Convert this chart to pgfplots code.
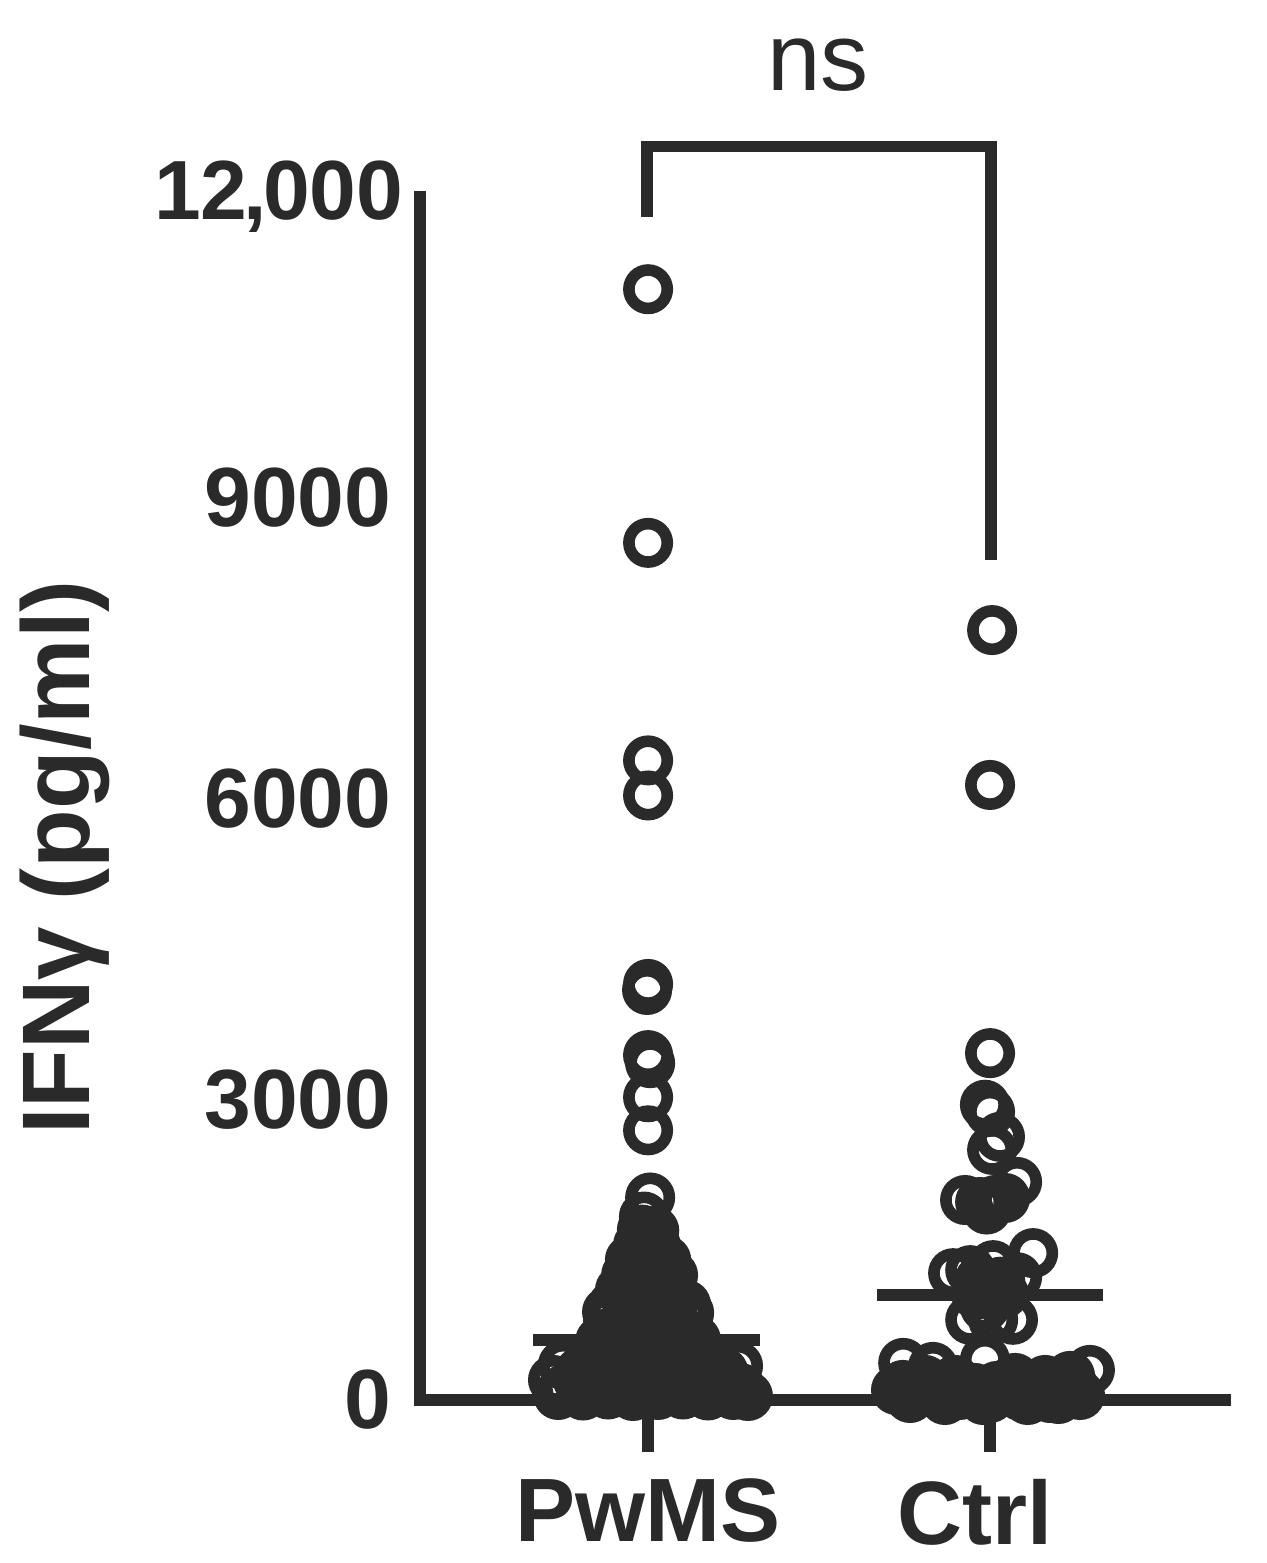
\documentclass[border=0pt]{standalone}
\usepackage{fontspec}
\setmainfont{Liberation Sans}
\usepackage{pgfplots}
\usepackage{pgfplotstable}
\pgfplotsset{compat=1.18}
\definecolor{ink}{HTML}{2A2A2A}

% x = group position (1 = PwMS, 2 = Ctrl) with swarm offset, y = IFNg in pg/ml
\pgfplotstableread{
x y
1.000 11080
1.000 8550
1.000 6380
1.000 6030
1.000 4150
0.997 4090
1.000 3440
1.006 3360
1.000 3020
1.000 2690
1.006 2020
0.988 1830
0.982 1700
1.018 1690
0.971 1550
1.023 1540
0.947 1400
1.000 1390
1.053 1395
0.960 1320
1.040 1320
0.936 1250
0.985 1240
1.035 1255
1.073 1245
1.000 1150
0.918 1100
0.971 1095
1.023 1090
1.073 1100
0.950 1020
1.050 1000
0.898 950
0.956 945
1.015 955
1.073 940
1.111 950
0.880 880
1.120 870
0.883 800
0.942 795
1.000 800
1.058 790
1.117 805
0.912 720
1.000 700
1.088 720
0.883 650
0.956 645
1.029 655
1.102 640
0.860 590
1.140 600
0.985 560
1.060 560
0.868 500
0.942 495
1.015 505
1.088 490
1.140 500
0.751 350
0.825 345
0.898 355
0.971 340
1.044 350
1.117 345
1.190 355
1.263 340
0.800 280
0.870 270
0.940 280
1.010 270
1.080 280
1.150 270
1.220 280
0.722 200
0.795 195
0.868 205
0.942 190
1.015 200
1.088 205
1.161 195
1.234 200
0.760 120
0.830 115
0.900 125
0.970 110
1.040 120
1.110 125
1.190 115
1.270 120
0.737 50
0.810 45
0.883 55
0.956 40
1.029 50
1.102 55
1.175 45
1.249 50
1.292 40
}\pwmsdata

\pgfplotstableread{
x y
2.006 7680
2.000 6135
2.000 3460
1.985 2945
2.000 2875
2.029 2625
2.006 2495
2.079 2175
1.927 1995
1.971 1975
2.015 1995
2.044 2015
1.990 1900
2.126 1465
1.892 1265
1.942 1295
2.009 1345
2.079 1225
1.970 1200
2.030 1180
2.000 1145
2.000 1080
1.960 1050
2.040 1060
1.985 930
1.942 800
2.009 800
2.067 800
1.985 400
1.746 370
1.833 330
2.292 300
1.810 200
1.898 200
2.073 220
2.161 200
2.234 240
1.745 150
1.790 110
1.850 150
1.930 130
1.975 90
2.020 140
2.065 100
2.110 150
2.150 110
2.200 160
2.245 130
1.725 100
1.766 20
1.825 80
1.868 0
1.880 30
1.912 50
1.956 120
1.980 0
2.000 20
2.044 100
2.088 40
2.110 0
2.132 120
2.175 20
2.200 10
2.219 100
2.263 50
}\ctrldata

\begin{document}
\begin{tikzpicture}
\begin{axis}[
    scale only axis,
    width=201.25pt, height=300.75pt,
    xmin=0.333, xmax=2.687,
    ymin=0, ymax=12000,
    clip=false,
    axis x line*=bottom, axis y line*=left,
    axis line style={-, line width=2.8pt, color=ink, line cap=rect},
    xtick={1,2}, xticklabels={PwMS,{Ctrl\kern7.5pt}},
    ytick={0,3000,6000,9000,12000},
    yticklabels={0,3000,6000,9000,{12\kern-1pt,\kern-1pt000\kern-3pt}},
    scaled y ticks=false,
    tick align=outside,
    major tick length=13pt,
    xtick style={line width=2.8pt, color=ink},
    ytick style={draw=none},
    yticklabel style={font=\bfseries\fontsize{21}{24}\selectfont, text=ink,
        anchor=east, inner sep=0pt, xshift=6pt},
    xticklabel style={font=\bfseries\fontsize{22.5}{26}\selectfont, text=ink,
        anchor=north, inner sep=0pt, yshift=-6.5pt},
    ylabel={IFNγ (pg/ml)},
    ylabel style={font=\bfseries\fontsize{24}{28}\selectfont, text=ink,
        at={(axis description cs:-0.441,0.451)}, anchor=center},
]
\addplot[only marks, mark=o, mark size=4.8pt, color=ink,
    mark options={line width=2.9pt}] table[x=x, y=y] {\pwmsdata};
\addplot[only marks, mark=o, mark size=4.8pt, color=ink,
    mark options={line width=2.9pt}] table[x=x, y=y] {\ctrldata};
% mean lines
\addplot[no marks, line width=3pt, color=ink] coordinates {(0.664,599) (1.327,599)};
\addplot[no marks, line width=3pt, color=ink] coordinates {(1.670,1047) (2.330,1047)};
% significance bracket
\addplot[no marks, line width=2.8pt, color=ink, line join=miter]
    coordinates {(0.997,11800) (0.997,12504) (2.003,12504) (2.003,8379)};
\node[anchor=base, font=\fontsize{24}{28}\selectfont, text=ink, inner sep=0pt]
    at (axis cs:1.497,13067) {ns};
\end{axis}
\pgfresetboundingbox
\path (-105pt,-40.75pt) rectangle (211.5pt,350pt);
\end{tikzpicture}
\end{document}
